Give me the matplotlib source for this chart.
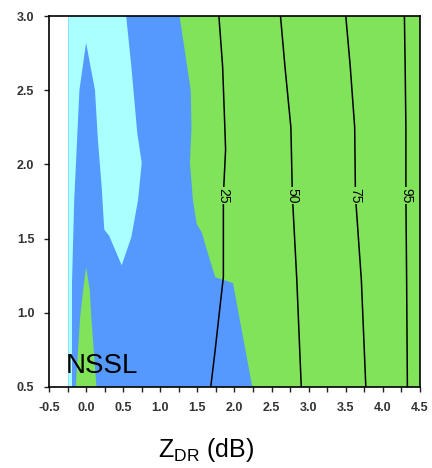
import matplotlib
matplotlib.use("Agg")
import matplotlib.pyplot as plt
from matplotlib.ticker import MultipleLocator

plt.rcParams['font.family'] = ['Liberation Sans', 'DejaVu Sans']
plt.rcParams['axes.unicode_minus'] = False

# region colours
c_white = "#ffffff"
c_cyan = "#aaffff"
c_blue = "#5599ff"
c_green = "#80e35a"

# left edge of the coloured field
x_field_left = -0.24

# cyan region (includes the blue notch that reaches up to 2.82)
cyan_x = [-0.24, -0.24, 0.54, 0.61, 0.69, 0.75, 0.70, 0.61, 0.48,
          0.31, 0.245, 0.21, 0.16, 0.12, 0.0, -0.09, -0.16, -0.19, -0.19]
cyan_y = [0.5, 3.0, 3.0, 2.66, 2.21, 2.01, 1.76, 1.51, 1.32,
          1.52, 1.56, 1.85, 2.16, 2.50, 2.82, 2.50, 1.76, 1.2, 0.5]

# green region on the right
green_x = [1.26, 1.41, 1.42, 1.40, 1.44, 1.49, 1.56, 1.63, 1.74, 1.98, 2.24, 4.5, 4.5]
green_y = [3.0, 2.50, 2.25, 2.01, 1.76, 1.60, 1.54, 1.42, 1.24, 1.20, 0.5, 0.5, 3.0]

# small green spike near 0 dB
spike_x = [-0.14, -0.08, -0.04, 0.0, 0.05, 0.07, 0.14]
spike_y = [0.5, 0.97, 1.15, 1.31, 1.15, 0.97, 0.5]

# percentile contours
levels = ["25", "50", "75", "95"]
line_y = {
    "25": [3.0, 2.66, 2.25, 2.10, 1.79, 1.24, 1.02, 0.75, 0.5],
    "50": [3.0, 2.66, 2.25, 1.79, 1.22, 0.5],
    "75": [3.0, 2.66, 2.25, 1.79, 1.22, 0.5],
    "95": [3.0, 2.66, 2.25, 1.79, 1.22, 0.5],
}
line_x = {
    "25": [1.79, 1.84, 1.87, 1.88, 1.85, 1.85, 1.80, 1.74, 1.68],
    "50": [2.62, 2.68, 2.76, 2.78, 2.84, 2.90],
    "75": [3.50, 3.56, 3.62, 3.63, 3.71, 3.77],
    "95": [4.29, 4.30, 4.31, 4.31, 4.32, 4.33],
}
label_y = 1.79

fig = plt.figure(figsize=(4.32, 4.68), dpi=100)
ax = fig.add_axes([0.1134, 0.1731, 0.8588, 0.7927])
ax.set_facecolor(c_white)

ax.axvspan(x_field_left, 4.5, color=c_blue, lw=0, zorder=1)
ax.fill(cyan_x, cyan_y, color=c_cyan, lw=0, zorder=2)
ax.fill(green_x, green_y, color=c_green, lw=0, zorder=2)
ax.fill(spike_x, spike_y, color=c_green, lw=0, zorder=2)

for lev in levels:
    xs, ys = line_x[lev], line_y[lev]
    ax.plot(xs, ys, color="black", lw=1.1, zorder=3)
    xl = xs[ys.index(label_y)]
    ax.text(xl, label_y, lev, rotation=-90, ha="center", va="center",
            fontsize=10, zorder=4,
            bbox=dict(facecolor=c_green, edgecolor="none", pad=0.3))

ax.text(-0.28, 0.593, "NSSL", fontsize=20, ha="left", va="baseline", zorder=5)

ax.set_xlim(-0.5, 4.5)
ax.set_ylim(0.5, 3.0)
ax.xaxis.set_major_locator(MultipleLocator(0.5))
ax.xaxis.set_minor_locator(MultipleLocator(0.25))
ax.yaxis.set_major_locator(MultipleLocator(0.5))
ax.tick_params(which="both", direction="out", length=3.6, width=1, color="#222222",
               labelsize=9, labelcolor="#333333")
ax.tick_params(axis="x", pad=7)
ax.tick_params(axis="y", pad=7)
for lab in ax.get_xticklabels() + ax.get_yticklabels():
    lab.set_fontweight("bold")
for sp in ax.spines.values():
    sp.set_linewidth(1.2)
    sp.set_zorder(6)

fig.text(206 / 432, 0.038, r"Z$_\mathregular{DR}$ (dB)", fontsize=18,
         ha="center", va="center")

fig.savefig("out.png", dpi=100)
